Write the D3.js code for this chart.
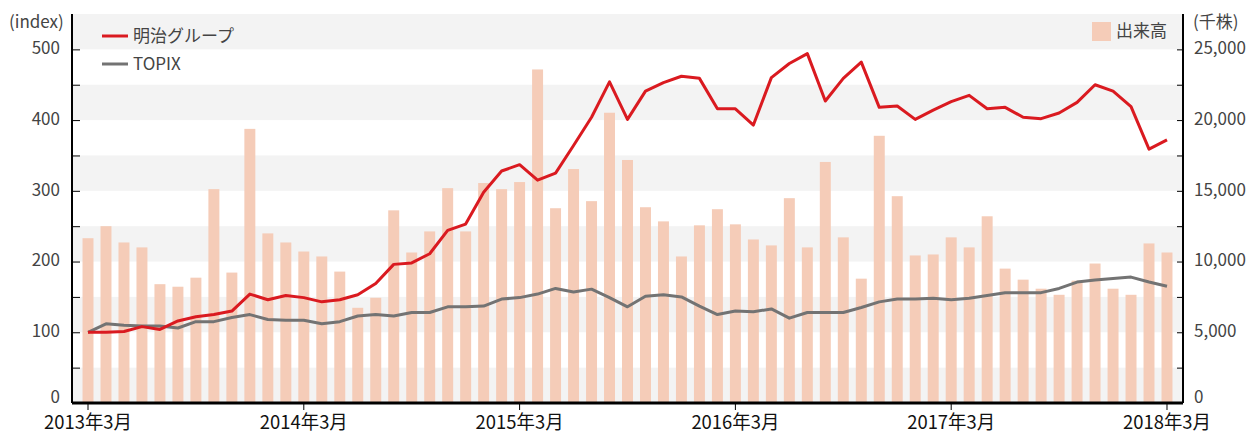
<!DOCTYPE html>
<html lang="ja">
<head>
    <meta charset="UTF-8">
    <title>明治グループ 株価推移</title>
    <script src="https://d3js.org/d3.v7.min.js"></script>
    <style>
        body { margin: 0; background: #fff; }
        svg { display: block; font-family: 'Noto Sans CJK JP', 'Noto Sans', sans-serif; }
        .tick-label { fill: #444; font-size: 17px; }
        .x-label { fill: #111; font-size: 19px; }
    </style>
</head>
<body>
    <div id="chart"></div>
    <script>
        // monthly categories, 2013/3 .. 2018/3
        var months = d3.timeMonth.range(new Date(2013, 2, 1), new Date(2018, 3, 1));

        // 出来高 (千株)
        var volume = [
            11650, 12500, 11350, 11000, 8400, 8220, 8860, 15120, 9220, 19380,
            11990, 11350, 10710, 10360, 9290, 6730, 7440, 13620, 10640, 12130,
            15190, 12130, 15550, 15120, 15620, 23580, 13770, 16540, 14270, 20520,
            17180, 13840, 12840, 10360, 12560, 13700, 12630, 11560, 11140, 14480,
            11000, 17040, 11710, 8790, 18890, 14620, 10430, 10500, 11710, 11000,
            13200, 9500, 8720, 8080, 7650, 8650, 9860, 8080, 7650, 11280, 10640
        ];

        // 明治グループ (index)
        var meiji = [
            100, 100, 101, 108, 104, 116, 122, 125, 130, 154,
            146, 152, 149, 143, 146, 153, 169, 196, 198, 211,
            244, 253, 298, 328, 337, 315, 325, 364, 404, 454,
            401, 441, 453, 462, 459, 416, 416, 393, 460, 480,
            494, 427, 459, 482, 418, 420, 401, 414, 426, 435,
            416, 418, 404, 402, 410, 425, 450, 441, 419, 359, 372
        ];

        // TOPIX (index)
        var topix = [
            100, 112, 110, 109, 109, 106, 115, 115, 121, 125,
            118, 117, 117, 112, 115, 123, 125, 123, 128, 128,
            136, 136, 137, 147, 149, 154, 162, 157, 161, 149,
            136, 151, 153, 150, 137, 125, 130, 129, 133, 120,
            128, 128, 128, 135, 143, 147, 147, 148, 146, 148,
            152, 156, 156, 156, 162, 171, 174, 176, 178, 171, 165
        ];

        var xTickIdx = [0, 12, 24, 36, 48, 60];
        var xTickLabels = ['2013年3月', '2014年3月', '2015年3月', '2016年3月', '2017年3月', '2018年3月'];
        var leftTicks = [0, 100, 200, 300, 400, 500];
        var rightTicks = [0, 5000, 10000, 15000, 20000, 25000];

        var width = 1246, height = 434;
        var plotLeft = 72, plotRight = 1183, plotTop = 14, plotBottom = 403;

        var svg = d3.select('#chart').append('svg')
            .attr('width', width)
            .attr('height', height);

        var x = d3.scaleBand()
            .domain(d3.range(months.length))
            .range([plotLeft, plotRight])
            .paddingInner(0.39)
            .paddingOuter(0.585);

        var y = d3.scaleLinear().domain([0, 550]).range([plotBottom, plotTop]);
        var y2 = d3.scaleLinear().domain([0, 27500]).range([plotBottom, plotTop]);

        // alternating background bands
        var bands = d3.range(0, 550, 100);
        svg.append('g').selectAll('rect')
            .data(bands)
            .join('rect')
            .attr('x', plotLeft)
            .attr('width', plotRight - plotLeft)
            .attr('y', d => y(d + 50))
            .attr('height', d => y(d) - y(d + 50))
            .attr('fill', '#f3f3f3');

        // volume bars
        svg.append('g').selectAll('rect')
            .data(volume)
            .join('rect')
            .attr('x', (d, i) => x(i))
            .attr('width', x.bandwidth())
            .attr('y', d => y2(d))
            .attr('height', d => plotBottom - y2(d))
            .attr('fill', '#f5ccb8');

        var cx = i => x(i) + x.bandwidth() / 2;

        var lineFn = d3.line().x((d, i) => cx(i)).y(d => y(d));

        svg.append('path')
            .datum(topix)
            .attr('d', lineFn)
            .attr('fill', 'none')
            .attr('stroke', '#737373')
            .attr('stroke-width', 3)
            .attr('stroke-linejoin', 'round');

        svg.append('path')
            .datum(meiji)
            .attr('d', lineFn)
            .attr('fill', 'none')
            .attr('stroke', '#da1a20')
            .attr('stroke-width', 3)
            .attr('stroke-linejoin', 'round');

        // left axis
        var leftAxis = svg.append('g')
            .attr('transform', 'translate(' + plotLeft + ',0)')
            .call(d3.axisRight(y).tickValues(d3.range(0, 550, 50)).tickSize(8).tickFormat(''));
        leftAxis.select('.domain').attr('d', 'M0,' + plotTop + 'V' + plotBottom).attr('stroke-width', 2);

        // zero label sits a little above the x axis line
        var labelY = (scale, d) => scale(d) - (d === 0 ? 6 : 1);

        svg.append('g').selectAll('text')
            .data(leftTicks)
            .join('text')
            .attr('class', 'tick-label')
            .attr('x', plotLeft - 12)
            .attr('y', d => labelY(y, d))
            .attr('dy', '0.35em')
            .attr('text-anchor', 'end')
            .text(d => d);

        // right axis
        var rightAxis = svg.append('g')
            .attr('transform', 'translate(' + plotRight + ',0)')
            .call(d3.axisLeft(y2).tickValues(d3.range(0, 27500, 2500)).tickSize(6).tickFormat(''));
        rightAxis.select('.domain').attr('d', 'M0,' + plotTop + 'V' + plotBottom).attr('stroke-width', 2);

        svg.append('g').selectAll('text')
            .data(rightTicks)
            .join('text')
            .attr('class', 'tick-label')
            .attr('x', plotRight + 11)
            .attr('y', d => labelY(y2, d))
            .attr('dy', '0.35em')
            .attr('text-anchor', 'start')
            .text(d => d3.format(',')(d));

        // x axis
        var xAxis = svg.append('g')
            .attr('transform', 'translate(0,' + plotBottom + ')')
            .call(d3.axisBottom(x).tickValues(xTickIdx).tickSize(7).tickFormat(''));
        xAxis.selectAll('.tick').attr('transform', d => 'translate(' + cx(d) + ',0)');
        xAxis.select('.domain').attr('d', 'M' + plotLeft + ',0H' + plotRight).attr('stroke-width', 3);

        svg.append('g').selectAll('text')
            .data(xTickIdx)
            .join('text')
            .attr('class', 'x-label')
            .attr('x', d => cx(d))
            .attr('y', plotBottom + 26)
            .attr('text-anchor', 'middle')
            .attr('textLength', 88)
            .attr('lengthAdjust', 'spacingAndGlyphs')
            .text((d, i) => xTickLabels[i]);

        // units
        svg.append('text').attr('class', 'tick-label')
            .attr('x', 9).attr('y', 28).text('(index)');
        svg.append('text').attr('class', 'tick-label')
            .attr('x', 1193).attr('y', 28).text('(千株)');

        // legend
        var legend = [
            { name: '明治グループ', color: '#da1a20' },
            { name: 'TOPIX', color: '#737373' }
        ];
        var lg = svg.append('g').selectAll('g')
            .data(legend)
            .join('g')
            .attr('transform', (d, i) => 'translate(102,' + (36 + i * 28) + ')');
        lg.append('line')
            .attr('x1', 0).attr('x2', 26)
            .attr('stroke', d => d.color)
            .attr('stroke-width', 3);
        lg.append('text')
            .attr('class', 'tick-label')
            .attr('x', 31)
            .attr('dy', '0.35em')
            .text(d => d.name);

        svg.append('rect')
            .attr('x', 1092).attr('y', 22)
            .attr('width', 19).attr('height', 19)
            .attr('fill', '#f5ccb8');
        svg.append('text')
            .attr('class', 'tick-label')
            .attr('x', 1116).attr('y', 31)
            .attr('dy', '0.35em')
            .text('出来高');
    </script>
</body>
</html>
